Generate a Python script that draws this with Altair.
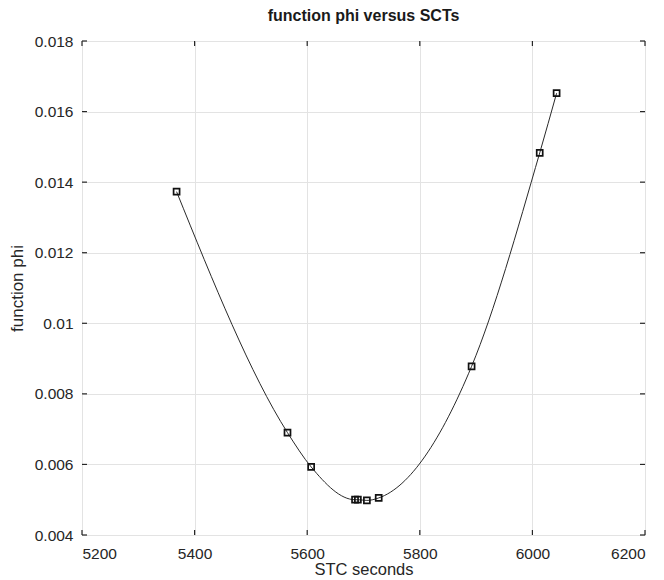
import altair as alt
import pandas as pd

stc_seconds = [5368, 5565, 5607, 5685, 5690, 5706, 5727, 5892, 6013, 6043]
function_phi = [0.01373, 0.0069, 0.00593, 0.0050, 0.0050, 0.00498, 0.00505, 0.00878, 0.01483, 0.01652]
x_ticks = [5200, 5400, 5600, 5800, 6000, 6200]
y_ticks = [0.004, 0.006, 0.008, 0.010, 0.012, 0.014, 0.016, 0.018]

W, H = 563, 494
df = pd.DataFrame({"x": stc_seconds, "y": function_phi})
xt = pd.DataFrame({"t": x_ticks})
yt = pd.DataFrame({"t": y_ticks})

xscale = alt.Scale(domain=[5200, 6200], nice=False, zero=False)
yscale = alt.Scale(domain=[0.004, 0.018], nice=False, zero=False)

xaxis = alt.Axis(values=x_ticks, title="STC seconds", format="d", grid=True,
                 gridColor="#e3e3e3", gridWidth=1, domain=False, ticks=False,
                 labelPadding=11, labelFontSize=15.5, titleFontSize=16.5,
                 titleFontWeight="normal", titlePadding=0,
                 labelColor="#262626", titleColor="#262626", labelFont="Liberation Sans",
                 titleFont="Liberation Sans")
yaxis = alt.Axis(values=y_ticks, title="function phi", format="~g", grid=True,
                 gridColor="#e3e3e3", gridWidth=1, domain=False, ticks=False,
                 labelPadding=9, labelFontSize=15.5, titleFontSize=17,
                 titleFontWeight="normal", titlePadding=8,
                 labelColor="#262626", titleColor="#262626", labelFont="Liberation Sans",
                 titleFont="Liberation Sans")

line = alt.Chart(df).mark_line(interpolate="monotone", color="#2a2a2a", strokeWidth=1).encode(
    x=alt.X("x:Q", scale=xscale, axis=xaxis),
    y=alt.Y("y:Q", scale=yscale, axis=yaxis),
)
pts = alt.Chart(df).mark_point(shape="square", filled=False, color="#111111", size=36, strokeWidth=1.7, opacity=1).encode(
    x=alt.X("x:Q", scale=xscale),
    y=alt.Y("y:Q", scale=yscale),
)

tick_style = dict(color="#262626", strokeWidth=1.2)
xt_bottom = alt.Chart(xt).mark_rule(**tick_style).encode(
    x=alt.X("t:Q", scale=xscale), y=alt.value(H), y2=alt.value(H - 5))
xt_top = alt.Chart(xt).mark_rule(**tick_style).encode(
    x=alt.X("t:Q", scale=xscale), y=alt.value(0), y2=alt.value(5))
yt_left = alt.Chart(yt).mark_rule(**tick_style).encode(
    y=alt.Y("t:Q", scale=yscale), x=alt.value(0), x2=alt.value(5))
yt_right = alt.Chart(yt).mark_rule(**tick_style).encode(
    y=alt.Y("t:Q", scale=yscale), x=alt.value(W), x2=alt.value(W - 5))

chart = alt.layer(line, pts, xt_bottom, xt_top, yt_left, yt_right).properties(
    width=W, height=H,
    title=alt.TitleParams("function phi versus SCTs", fontSize=16, fontWeight="bold",
                          font="Liberation Sans", color="#1a1a1a", offset=10, anchor="middle"),
    autosize=alt.AutoSizeParams(type="none"),
    padding={"left": 74, "top": 33, "right": 11, "bottom": 42},
).configure_view(stroke="#262626", strokeWidth=1.6).configure(background="white")

chart.save("out.html", embed_options={"renderer": "svg", "actions": False})
